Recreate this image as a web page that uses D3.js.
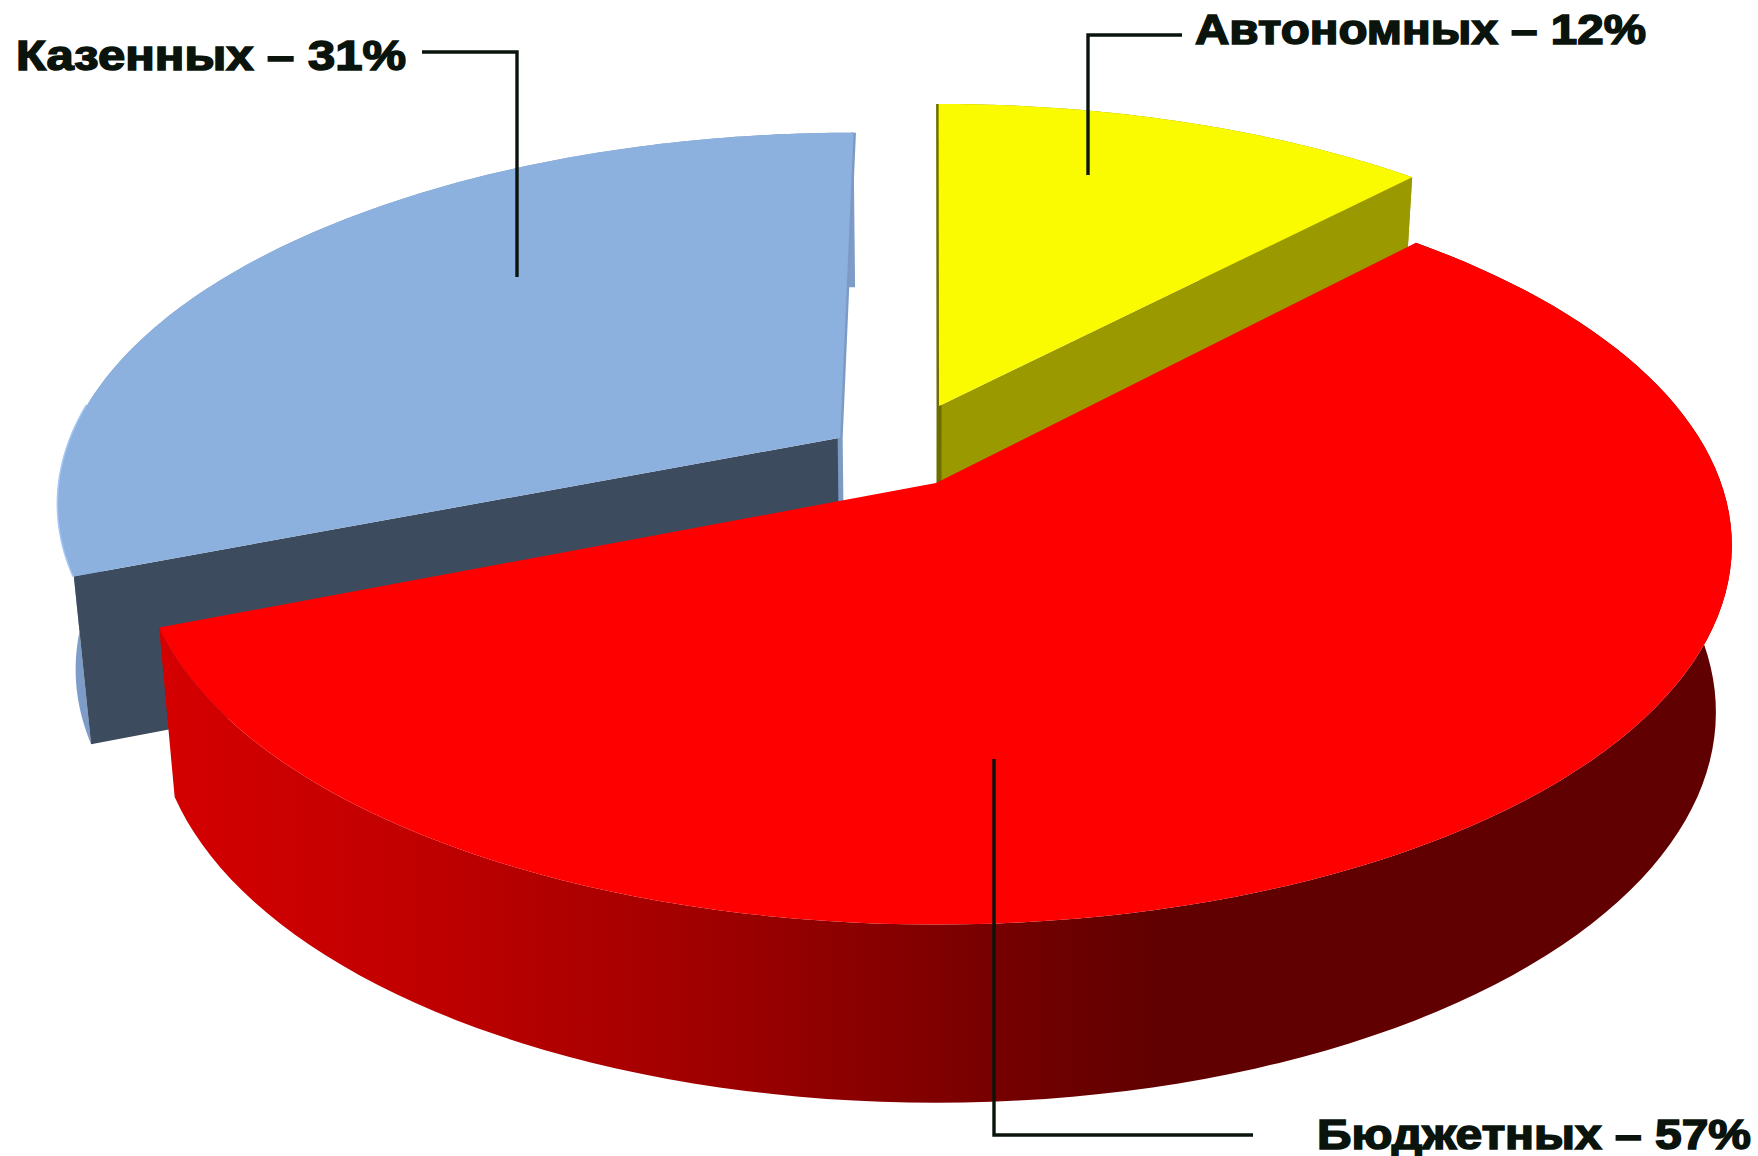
<!DOCTYPE html>
<html>
<head>
<meta charset="utf-8">
<script src="https://cdn.jsdelivr.net/npm/d3@7"></script>
<style>
  html, body { margin: 0; padding: 0; background: #fff; }
  svg { display: block; }
  .label { font-family: "Liberation Sans", Arial, sans-serif; font-weight: bold; font-size: 43px; fill: #0a140c; stroke: #0a140c; stroke-width: 1.6px; }
  .leader { fill: none; stroke: #0a140c; stroke-width: 3.4px; stroke-linejoin: miter; }
</style>
</head>
<body>
<div id="chart"></div>
<script>
// data, clockwise from 12 o'clock
const categories = ["Автономных", "Бюджетных", "Казенных"];
const values = [12, 57, 31];

// look of each slice, same order as the data
const topColors = ["#fafa00", "#fe0000", "#8db1de"];
const faceColors = ["#9b9900", "#7a0000", "#3d4b5e"];
const wallColors = ["#9b9900", "url(#redWall)", "#7e9cc8"];
const edgeColors = ["#6e6d00", "#fe0000", "#7d9ac4"];
const explodeU = [0.004, 0, -0.1246];
const explodeV = [-0.216, 0, -0.125];
const radius = [1.02, 1, 1];

// red wall shading, left to right
const wallStopX = [160, 400, 670, 900, 1000, 1160];
const wallStopColor = ["#d50000", "#c20000", "#a40000", "#850000", "#760000", "#600000"];

// labels and their leaders
const labelX = [1195, 1317, 16];
const labelEnd = [1646, 1751, 406];
const labelY = [44, 1149, 70];
const leaders = [
    [[1182, 35], [1088, 35], [1088, 175]],
    [[1253, 1135], [994, 1135], [994, 759]],
    [[422, 52], [517, 52], [517, 277]]
];

const width = 1758, height = 1156;

// perspective of the pie plane, u to the right and v towards the viewer
const persp = 0.1644;
const x0 = 936, scaleU = 785;
const topY0 = 483, topScaleV = 369;
const botY0 = 648, botScaleV = 380, botShrink = 0.98;

function project(u, v, bottom) {
    let w = 1 - persp * v;
    let x = x0 + (bottom ? botShrink : 1) * scaleU * u / w;
    let y = bottom ? botY0 + botScaleV * v / w : topY0 + topScaleV * v / w;
    return [x, y];
}

var svg = d3.select("#chart").append("svg")
    .attr("width", width)
    .attr("height", height);

var gradient = svg.append("defs").append("linearGradient")
    .attr("id", "redWall")
    .attr("gradientUnits", "userSpaceOnUse")
    .attr("x1", wallStopX[0]).attr("x2", wallStopX[wallStopX.length - 1])
    .attr("y1", 0).attr("y2", 0);

wallStopX.forEach((x, i) => {
    gradient.append("stop")
        .attr("offset", (x - wallStopX[0]) / (wallStopX[wallStopX.length - 1] - wallStopX[0]))
        .attr("stop-color", wallStopColor[i]);
});

var line = d3.line();

var slices = d3.pie().sort(null).startAngle(0).endAngle(2 * Math.PI)(values);

// outer rim points of a slice
function rim(d, bottom) {
    let i = d.index;
    return d3.range(0, 121).map(k => {
        let a = d.startAngle + (d.endAngle - d.startAngle) * k / 120;
        return project(explodeU[i] + radius[i] * Math.sin(a), explodeV[i] - radius[i] * Math.cos(a), bottom);
    });
}

function apex(d, bottom) {
    return project(explodeU[d.index], explodeV[d.index], bottom);
}

// the two exploded slices go behind the big red one
var order = [2, 0, 1];

order.forEach(i => {
    let d = slices[i];
    let g = svg.append("g").attr("class", "slice");
    let top = rim(d, false);
    let bot = rim(d, true);
    let last = top.length - 1;

    // outer wall
    g.append("path")
        .attr("d", line(top.concat(bot.slice().reverse())) + "Z")
        .attr("fill", wallColors[i]);

    if (i != 1) {
        // cut faces
        g.append("path")
            .attr("d", line([apex(d, false), top[i == 0 ? last : 0], bot[i == 0 ? last : 0], apex(d, true)]) + "Z")
            .attr("fill", faceColors[i]);

        // the face seen almost edge on at 12 o'clock
        let backIdx = i == 0 ? 0 : last;
        g.append("path")
            .attr("d", line([top[backIdx], apex(d, false), apex(d, true)]))
            .attr("fill", "none")
            .attr("stroke", edgeColors[i])
            .attr("stroke-width", 5);
    }

    if (i == 2) {
        // light rim on the blue slice's left corner
        g.append("path")
            .attr("d", line(top.slice(0, 30)))
            .attr("fill", "none")
            .attr("stroke", "#a3c8f5")
            .attr("stroke-width", 3);
    }

    g.append("path")
        .attr("d", line([apex(d, false)].concat(top)) + "Z")
        .attr("fill", topColors[i]);
});

svg.selectAll(".leader")
    .data(leaders)
    .enter()
    .append("path")
    .attr("class", "leader")
    .attr("d", d => line(d));

svg.selectAll(".label")
    .data(slices)
    .enter()
    .append("text")
    .attr("class", "label")
    .attr("x", d => labelX[d.index])
    .attr("y", d => labelY[d.index])
    .attr("textLength", d => labelEnd[d.index] - labelX[d.index])
    .attr("lengthAdjust", "spacingAndGlyphs")
    .text(d => `${categories[d.index]} – ${d.value}%`);
</script>
</body>
</html>
